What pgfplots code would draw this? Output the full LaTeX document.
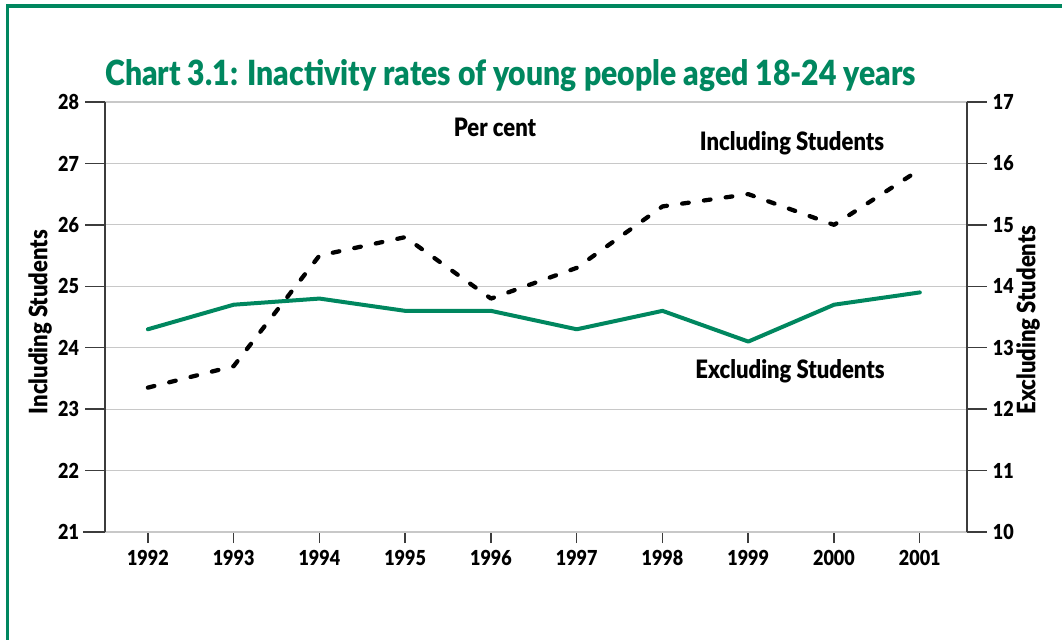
\documentclass[border=0pt]{standalone}
\usepackage{pgfplots}
\pgfplotsset{compat=1.18}
\usepackage{fontspec}
\setmainfont{Lato}[FakeStretch=0.87, BoldFont={Lato Black}, BoldFeatures={FakeStretch=0.87}]
\definecolor{dfegreen}{RGB}{0,135,95}
\definecolor{gridgrey}{RGB}{200,200,200}
\definecolor{axisgrey}{RGB}{60,60,60}
\newcommand{\lblfont}{\bfseries\fontsize{15.5}{17}\selectfont}
\newcommand{\txtfont}{\bfseries\fontsize{19}{21}\selectfont}

\begin{document}
\begin{tikzpicture}
\useasboundingbox (0,0) rectangle (796.5pt,479.25pt);
\clip (0,0) rectangle (796.5pt,479.25pt);

\pgfplotsset{
  plotframe/.style={
    at={(78.75pt,80.25pt)}, anchor=south west,
    scale only axis, width=646.5pt, height=322.5pt,
    xmin=1991.5, xmax=2001.55,
    axis line style={axisgrey, line width=1.3pt, -},
    tick style={axisgrey, line width=1.1pt},
    tick align=outside,
    ticklabel style={font=\lblfont},
    /pgf/number format/assume math mode=true,
    /pgf/number format/1000 sep={},
    clip=false,
  },
}

% x axis with its years
\begin{axis}[plotframe,
  ymin=21, ymax=28,
  axis x line*=bottom, hide y axis,
  xtick={1992,...,2001},
  major tick length=8.25pt,
  xticklabel style={yshift=-2pt},
]
\draw[axisgrey, line width=1.3pt] (rel axis cs:-0.0255,0) -- (rel axis cs:1.0174,0);
\end{axis}

% right axis: excluding students
\begin{axis}[plotframe,
  ymin=10, ymax=17,
  axis y line*=right, hide x axis,
  ytick={10,...,17},
  major tick length=15pt,
  ymajorgrids, grid style={gridgrey, line width=0.9pt},
  yticklabel style={xshift=1pt},
]
\addplot[dfegreen, line width=3pt, line join=round, line cap=round] coordinates {
  (1992,13.3) (1993,13.7) (1994,13.8) (1995,13.6) (1996,13.6)
  (1997,13.3) (1998,13.6) (1999,13.1) (2000,13.7) (2001,13.9)};
\end{axis}

% left axis: including students
\begin{axis}[plotframe,
  ymin=21, ymax=28,
  axis y line*=left, hide x axis,
  ytick={21,...,28},
  major tick length=15pt,
  yticklabel style={xshift=-1pt},
]
\addplot[black, line width=3.2pt, line cap=round, line join=round,
  dash pattern=on 5pt off 11.5pt] coordinates {
  (1992,23.35) (1993,23.7) (1994,25.5) (1995,25.8) (1996,24.8)
  (1997,25.3) (1998,26.3) (1999,26.5) (2000,26.0) (2001,26.9)};
\end{axis}

% frame, title and labels
\begin{scope}[x=0.75pt, y=-0.75pt, shift={(0pt,479.25pt)}]
  \draw[dfegreen, line width=2.4pt] (7.5,700) -- (7.5,6) -- (1100,6);
  \node[anchor=base west, inner sep=0pt, text=dfegreen,
        font=\bfseries\fontsize{26}{31}\selectfont]
    at (105,86) {Chart 3.1: Inactivity rates of young people aged 18-24 years};
  \node[font=\txtfont] at (495,127) {Per cent};
  \node[font=\txtfont] at (792,143) {Including Students};
  \node[font=\txtfont] at (790,371) {Excluding Students};
  \node[font=\txtfont, rotate=90] at (40,322) {Including Students};
  \node[font=\txtfont, rotate=90] at (1028,320) {Excluding Students};
\end{scope}
\end{tikzpicture}
\end{document}
